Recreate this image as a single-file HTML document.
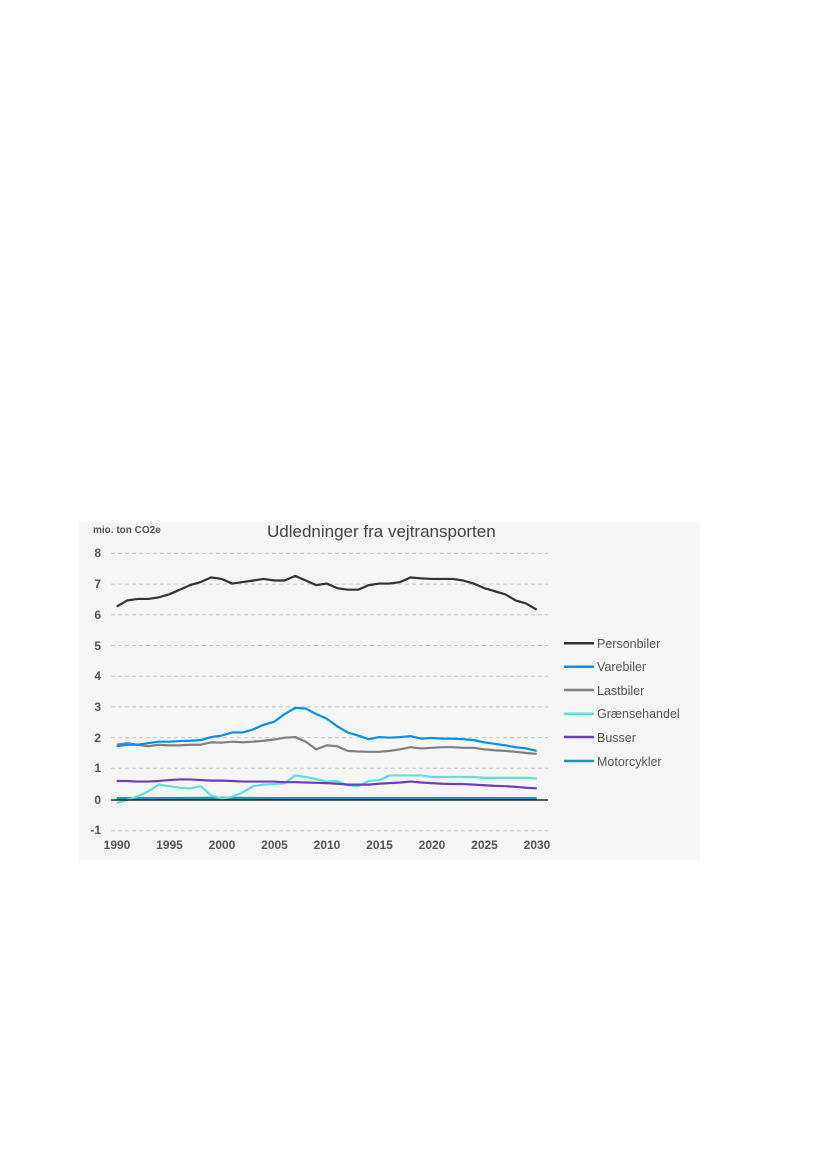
<!DOCTYPE html>
<html><head><meta charset="utf-8"><style>
html,body{margin:0;padding:0;background:#fff;}
body{width:827px;height:1169px;position:relative;overflow:hidden;font-family:"Liberation Sans",sans-serif;}
</style></head><body>
<svg width="827" height="1169" style="position:absolute;left:0;top:0" font-family="Liberation Sans, sans-serif">
<rect x="79" y="522" width="621" height="338" fill="#f6f6f6"/>
<text x="267" y="537" font-size="17" fill="#444">Udledninger fra vejtransporten</text>
<text x="93" y="533" font-size="10" font-weight="bold" fill="#555">mio. ton CO2e</text>
<g stroke="#c8c8c8" stroke-dasharray="4,3" stroke-width="1">
<line x1="111" x2="548" y1="553.4" y2="553.4"/><line x1="111" x2="548" y1="584.1" y2="584.1"/>
<line x1="111" x2="548" y1="614.8" y2="614.8"/><line x1="111" x2="548" y1="645.5" y2="645.5"/>
<line x1="111" x2="548" y1="676.2" y2="676.2"/><line x1="111" x2="548" y1="706.9" y2="706.9"/>
<line x1="111" x2="548" y1="737.6" y2="737.6"/><line x1="111" x2="548" y1="768.3" y2="768.3"/>
<line x1="111" x2="548" y1="830.7" y2="830.7"/>
</g>
<g font-size="12" font-weight="bold" fill="#555" text-anchor="end">
<text x="101" y="557">8</text><text x="101" y="588">7</text><text x="101" y="619">6</text><text x="101" y="650">5</text>
<text x="101" y="680">4</text><text x="101" y="711">3</text><text x="101" y="742">2</text><text x="101" y="772">1</text>
<text x="101" y="804">0</text><text x="101" y="834">-1</text>
</g>
<g font-size="12" font-weight="bold" fill="#555" text-anchor="middle">
<text x="117" y="849">1990</text><text x="169.5" y="849">1995</text><text x="222" y="849">2000</text><text x="274.5" y="849">2005</text>
<text x="327" y="849">2010</text><text x="379.5" y="849">2015</text><text x="432" y="849">2020</text><text x="484.5" y="849">2025</text><text x="537" y="849">2030</text>
</g>
<g transform="translate(116.7,800) scale(10.5,-30.7)" fill="none" stroke-width="2.2" stroke-linejoin="round">
<polyline vector-effect="non-scaling-stroke" stroke="#1a9aaa" stroke-width="3" points="0,0.05 5,0.05 10,0.06 15,0.05 20,0.05 25,0.05 30,0.05 35,0.05 40,0.05"/>
<polyline vector-effect="non-scaling-stroke" stroke="#5ee0d8" points="0,-0.1 1,0 2,0.12 3,0.28 4,0.5 5,0.45 6,0.4 7,0.38 8,0.45 9,0.15 10,0.05 11,0.1 12,0.25 13,0.45 14,0.5 15,0.52 16,0.55 17,0.8 18,0.75 19,0.68 20,0.6 21,0.62 22,0.48 23,0.45 24,0.62 25,0.65 26,0.8 27,0.8 28,0.8 29,0.8 30,0.75 31,0.75 32,0.75 33,0.75 34,0.75 35,0.72 36,0.72 37,0.72 38,0.72 39,0.72 40,0.7"/>
<polyline vector-effect="non-scaling-stroke" stroke="#6a3fbf" points="0,0.62 1,0.62 2,0.6 3,0.6 4,0.62 5,0.65 6,0.67 7,0.67 8,0.65 9,0.63 10,0.63 11,0.62 12,0.6 13,0.6 14,0.6 15,0.6 16,0.58 17,0.58 18,0.57 19,0.56 20,0.55 21,0.53 22,0.5 23,0.5 24,0.5 25,0.53 26,0.55 27,0.57 28,0.6 29,0.57 30,0.55 31,0.53 32,0.52 33,0.52 34,0.5 35,0.48 36,0.46 37,0.45 38,0.43 39,0.4 40,0.38"/>
<polyline vector-effect="non-scaling-stroke" stroke="#808080" points="0,1.8 1,1.85 2,1.8 3,1.75 4,1.8 5,1.78 6,1.78 7,1.8 8,1.8 9,1.88 10,1.87 11,1.9 12,1.88 13,1.9 14,1.93 15,1.97 16,2.03 17,2.05 18,1.9 19,1.65 20,1.78 21,1.75 22,1.6 23,1.58 24,1.57 25,1.57 26,1.6 27,1.65 28,1.72 29,1.68 30,1.7 31,1.72 32,1.72 33,1.7 34,1.7 35,1.65 36,1.62 37,1.6 38,1.57 39,1.53 40,1.5"/>
<polyline vector-effect="non-scaling-stroke" stroke="#0a8fe8" points="0,1.75 1,1.8 2,1.8 3,1.85 4,1.9 5,1.9 6,1.92 7,1.93 8,1.95 9,2.05 10,2.1 11,2.2 12,2.2 13,2.3 14,2.45 15,2.55 16,2.8 17,3 18,2.98 19,2.8 20,2.65 21,2.4 22,2.2 23,2.1 24,1.98 25,2.05 26,2.03 27,2.05 28,2.08 29,2 30,2.02 31,2 32,2 33,1.98 34,1.95 35,1.88 36,1.83 37,1.78 38,1.72 39,1.68 40,1.6"/>
<polyline vector-effect="non-scaling-stroke" stroke="#333" points="0,6.3 1,6.5 2,6.55 3,6.55 4,6.6 5,6.7 6,6.85 7,7 8,7.1 9,7.25 10,7.2 11,7.05 12,7.1 13,7.15 14,7.2 15,7.15 16,7.15 17,7.3 18,7.15 19,7 20,7.05 21,6.9 22,6.85 23,6.85 24,7 25,7.05 26,7.05 27,7.1 28,7.25 29,7.22 30,7.2 31,7.2 32,7.2 33,7.15 34,7.05 35,6.9 36,6.8 37,6.7 38,6.5 39,6.4 40,6.2"/>
</g>
<line x1="111" x2="548" y1="800" y2="800" stroke="#000" stroke-width="1.3"/>
<g stroke-width="2.5">
<line x1="564" x2="594" y1="643.3" y2="643.3" stroke="#333"/>
<line x1="564" x2="594" y1="666.7" y2="666.7" stroke="#0a8fe8"/>
<line x1="564" x2="594" y1="690" y2="690" stroke="#808080"/>
<line x1="564" x2="594" y1="713.7" y2="713.7" stroke="#5ee0d8"/>
<line x1="564" x2="594" y1="737" y2="737" stroke="#6a3fbf"/>
<line x1="564" x2="594" y1="761" y2="761" stroke="#1a9aaa"/>
</g>
<g font-size="12.5" fill="#555">
<text x="597" y="648">Personbiler</text><text x="597" y="671">Varebiler</text><text x="597" y="695">Lastbiler</text>
<text x="597" y="718">Grænsehandel</text><text x="597" y="742">Busser</text><text x="597" y="766">Motorcykler</text>
</g>
</svg>
</body></html>
